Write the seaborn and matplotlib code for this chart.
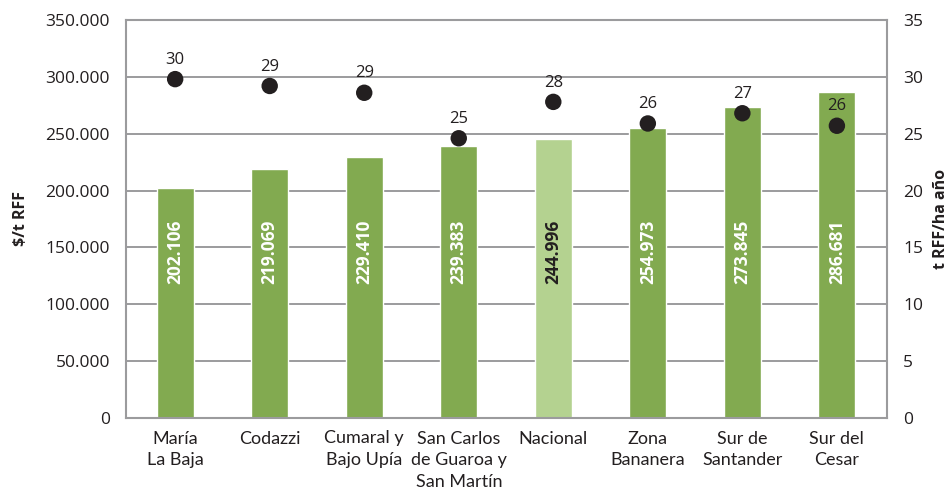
import matplotlib
matplotlib.use("Agg")
import matplotlib.pyplot as plt
from matplotlib.ticker import FuncFormatter, MultipleLocator
import numpy as np
import pandas as pd
import seaborn as sns

# Production cost per tonne of fresh fruit bunches and yield, by zone
categories = [
    "María\nLa Baja",
    "Codazzi",
    "Cumaral y\nBajo Upía",
    "San Carlos\nde Guaroa y\nSan Martín",
    "Nacional",
    "Zona\nBananera",
    "Sur de\nSantander",
    "Sur del\nCesar",
]
costs = [202106, 219069, 229410, 239383, 244996, 254973, 273845, 286681]
yields = [29.8, 29.2, 28.6, 24.6, 27.8, 25.9, 26.8, 25.7]
highlight = "Nacional"

GREEN = "#82aa50"
LIGHT_GREEN = "#b4d290"
DARK = "#231f20"
GRID = "#9b9b9d"

sns.set_theme(style="white")
plt.rcParams["font.family"] = ["Open Sans", "DejaVu Sans"]

df = pd.DataFrame({"zona": categories, "costo": costs, "rend": yields})
palette = {c: (LIGHT_GREEN if c == highlight else GREEN) for c in categories}

fig = plt.figure(figsize=(9.49, 4.93), dpi=100)
ax = fig.add_axes([126 / 949, 1 - 418 / 493, (887 - 126) / 949, (418 - 20) / 493])

sns.barplot(data=df, x="zona", y="costo", hue="zona", palette=palette,
            width=0.39, saturation=1, legend=False, ax=ax, zorder=2)

ax.set_ylim(0, 350000)
ax.set_xlim(-0.52, 7.53)
ax.yaxis.set_major_locator(MultipleLocator(50000))
ax.yaxis.set_major_formatter(FuncFormatter(lambda v, p: f"{int(v):,}".replace(",", ".")))
ax.grid(axis="y", color=GRID, linewidth=1.4, zorder=0)
ax.set_axisbelow(True)
for s in ax.spines.values():
    s.set_color(GRID)
    s.set_linewidth(1.5)
ax.tick_params(axis="both", length=0, colors=DARK, labelsize=12.5)
ax.tick_params(axis="y", pad=11.5)
ax.tick_params(axis="x", pad=9)
ax.set_xlabel("")
ax.set_ylabel("$/t RFF", fontsize=11.5, fontweight="bold", color=DARK, labelpad=12)
for lbl in ax.get_xticklabels():
    lbl.set_fontfamily(["Lato", "DejaVu Sans"])
    lbl.set_fontsize(13)
    lbl.set_linespacing(1.45)

# Values written vertically inside each bar
for i, (c, v) in enumerate(zip(categories, costs)):
    ax.text(i, 146000, f"{v:,}".replace(",", "."), rotation=90, ha="center", va="center",
            color=DARK if c == highlight else "white", fontsize=12.5, fontweight="bold",
            zorder=3)

# Yield on the secondary axis
ax2 = ax.twinx()
sns.scatterplot(x=np.arange(len(categories)), y=yields, ax=ax2, s=140, color=DARK,
                edgecolor="none", zorder=4)
ax2.set_xlim(ax.get_xlim())
ax2.set_ylim(0, 35)
ax2.yaxis.set_major_locator(MultipleLocator(5))
ax2.tick_params(axis="y", length=0, colors=DARK, labelsize=12.5, pad=11.5)
for s in ax2.spines.values():
    s.set_visible(False)
ax2.set_ylabel("t RFF/ha año", fontsize=11.5, fontweight="bold", color=DARK, labelpad=7)
for i, y in enumerate(yields):
    ax2.annotate(f"{y:.0f}", (i, y), xytext=(0, 11), textcoords="offset points",
                 ha="center", va="baseline", fontsize=12, color=DARK)

fig.savefig("out.png", dpi=100)
